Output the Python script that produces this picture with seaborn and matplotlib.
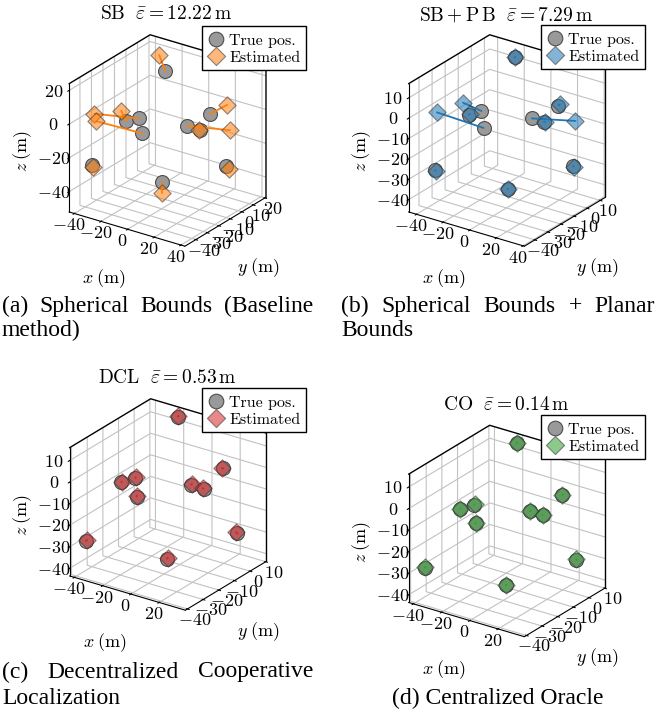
import matplotlib
matplotlib.use('Agg')
import matplotlib.pyplot as plt
import seaborn as sns
from matplotlib.ticker import MultipleLocator

# ground-truth node positions (m)
true_x = [-21.3, 17.0, -12.5, -5.4, 1.2, 19.8, 31.5, 34.9, -39.7, -6.1]
true_y = [7.9, 2.5, -36.2, -33.6, -38.7, -20.7, -23.3, -4.7, -34.2, -12.7]
true_z = [13.2, -1.1, 3.7, 5.9, 0.8, 2.1, 3.7, -24.6, -29.7, -40.8]

# estimated positions, spherical bounds only
sb_x = [-23.3, 17.0, -16.3, -38.8, -29.4, 39.8, 31.2, 37.4, -39.2, -6.1]
sb_y = [4.9, 17.3, -36.2, -33.6, -42.7, -6.5, -23.6, -4.7, -34.5, -12.7]
sb_z = [23.5, -1.75, 9.0, 0.9, 2.4, -1.7, 3.3, -26.2, -30.2, -46.8]

# spherical + planar bounds
pb_x = [-21.0, 17.5, -12.1, -19.2, -33.8, 39.8, 31.9, 35.2, -39.4, -6.0]
pb_y = [8.3, 2.9, -35.8, -33.6, -38.7, -7.7, -23.0, -4.4, -34.0, -12.9]
pb_z = [13.0, -0.6, 3.9, 7.3, 1.7, -0.3, 3.5, -24.9, -29.9, -40.5]

# decentralized cooperative localization
dcl_x = [-21.0, 16.2, -12.3, -5.2, 1.3, 20.1, 31.0, 34.2, -39.0, -5.8]
dcl_y = [8.0, 2.2, -36.0, -33.4, -38.6, -20.4, -23.5, -5.0, -34.0, -12.5]
dcl_z = [13.5, -1.0, 4.0, 6.2, 1.3, 2.3, 3.9, -24.1, -29.2, -40.4]

# centralized oracle
co_x = [-21.2, 16.9, -12.4, -5.3, 1.3, 19.9, 31.4, 34.8, -39.6, -6.0]
co_y = [8.0, 2.6, -36.1, -33.5, -38.6, -20.6, -23.2, -4.6, -34.1, -12.6]
co_z = [13.3, -1.0, 3.8, 6.0, 0.9, 2.2, 3.8, -24.5, -29.6, -40.7]

titles = [r'$\mathrm{SB}\ \ \bar{\varepsilon}=12.22\,\mathrm{m}$',
          r'$\mathrm{SB}+\mathrm{P\,B}\ \ \bar{\varepsilon}=7.29\,\mathrm{m}$',
          r'$\mathrm{DCL}\ \ \bar{\varepsilon}=0.53\,\mathrm{m}$',
          r'$\mathrm{CO}\ \ \bar{\varepsilon}=0.14\,\mathrm{m}$']

W, H = 662, 715

sns.set_style('white')
plt.rcParams.update({
    'font.family': 'serif',
    'font.serif': ['cmr10'],
    'mathtext.fontset': 'cm',
    'axes.formatter.use_mathtext': True,
    'axes.edgecolor': 'black',
    'text.color': 'black',
    'axes.labelcolor': 'black',
    'xtick.color': 'black',
    'ytick.color': 'black',
    'grid.color': '0.76',
    'grid.linewidth': 0.8,
})
pal = sns.color_palette('tab10')

fig = plt.figure(figsize=(W / 100, H / 100), dpi=100)


def draw_panel(rect, est, color, lims, steps, title, title_xy, leg_xy):
    ax = fig.add_axes(rect, projection='3d')
    ax.set_proj_type('ortho')
    ax.view_init(elev=25, azim=-55)
    ax.set_box_aspect((1, 1, 1))
    ax.computed_zorder = False
    (x0, x1), (y0, y1), (z0, z1) = lims
    ax.set_xlim(x0, x1)
    ax.set_ylim(y0, y1)
    ax.set_zlim(z0, z1)
    ax.xaxis.set_major_locator(MultipleLocator(steps[0]))
    ax.yaxis.set_major_locator(MultipleLocator(steps[1]))
    ax.zaxis.set_major_locator(MultipleLocator(steps[2]))
    ax.zaxis.set_ticks_position('lower')
    ax.zaxis.set_label_position('lower')
    for axis in (ax.xaxis, ax.yaxis, ax.zaxis):
        axis.pane.fill = False
        axis.pane.set_edgecolor((1, 1, 1, 0))
        axis.set_rotate_label(False)
    ax.grid(True)
    ax.tick_params(labelsize=13, pad=-2)
    ax.tick_params(axis='z', labelsize=13, pad=-1)
    for axis in (ax.xaxis, ax.yaxis, ax.zaxis):
        for tk in axis.get_major_ticks():
            tk.label1.set_verticalalignment('center')

    # back outline of the box
    ax.plot([x0, x0, x1, x1], [y0, y1, y1, y1], [z1, z1, z1, z0],
            color='black', lw=1.0, zorder=0.5)

    ex, ey, ez = est
    ax.scatter(true_x, true_y, true_z, s=100, c='0.6', edgecolors='0.3',
               linewidths=0.8, depthshade=False, label='True pos.', zorder=1)
    for i in range(len(true_x)):
        ax.plot([true_x[i], ex[i]], [true_y[i], ey[i]], [true_z[i], ez[i]],
                color=color, lw=1.3, zorder=2)
    ax.scatter(ex, ey, ez, marker='D', s=78, color=color, alpha=0.55,
               edgecolors='0.2', linewidths=0.8, depthshade=False,
               label='Estimated', zorder=3)

    ax.set_xlabel(r'$x\;(\mathrm{m})$', fontsize=13, rotation=0)
    ax.set_ylabel(r'$y\;(\mathrm{m})$', fontsize=13, rotation=0)
    ax.set_zlabel(r'$z\;(\mathrm{m})$', fontsize=13, rotation=90,
                  labelpad=0)

    ax.legend(loc='upper right', bbox_to_anchor=leg_xy,
              bbox_transform=fig.transFigure, fancybox=False,
              edgecolor='black', framealpha=1, fontsize=11.5, borderpad=0.35,
              handletextpad=0.35, labelspacing=0.05, borderaxespad=0,
              handlelength=1.0, handleheight=1.1, markerscale=1.05)
    fig.text(title_xy[0] / W, 1 - title_xy[1] / H, title, ha='center',
             va='center', fontsize=14)
    return ax


S = 237.8


def rect_at(cx, cy):
    # cube centre sits at 0.5135 of the square 3D axes
    left = cx - 0.5135 * S
    bottom = (H - cy) - 0.5135 * S
    return [left / W, bottom / H, S / W, S / H]


lims_a = [(-44, 43), (-49.5, 21), (-52, 24)]
lims_b = [(-46, 41), (-48, 14), (-46, 17)]
lims_cd = [(-43.4, 38.6), (-41.3, 10.5), (-43.5, 16)]

draw_panel(rect_at(167.5, 140.5), (sb_x, sb_y, sb_z), pal[1], lims_a,
           (20, 10, 20), titles[0], (166, 14), (306 / W, 1 - 26 / H))
draw_panel(rect_at(507, 140.5), (pb_x, pb_y, pb_z), pal[0], lims_b,
           (20, 10, 10), titles[1], (506, 15), (645 / W, 1 - 25 / H))
draw_panel(rect_at(168, 504.5), (dcl_x, dcl_y, dcl_z), pal[3], lims_cd,
           (20, 10, 10), titles[2], (167, 378), (306 / W, 1 - 388 / H))
draw_panel(rect_at(507, 531), (co_x, co_y, co_z), pal[2], lims_cd,
           (20, 10, 10), titles[3], (506, 405), (645 / W, 1 - 415 / H))

# sub-figure captions (justified like the paper)
renderer = fig.canvas.get_renderer()
cap_font = dict(fontsize=17, family='Liberation Serif', va='center')


def justify(line, x0, x1, y):
    words = line.split()
    texts = [fig.text(0, 1 - y / H, w, **cap_font) for w in words]
    widths = [t.get_window_extent(renderer).width for t in texts]
    gap = ((x1 - x0) - sum(widths)) / (len(words) - 1)
    x = x0
    for t, w in zip(texts, widths):
        t.set_x(x / W)
        x += w + gap


justify('(a) Spherical Bounds (Baseline', 2, 313, 306)
fig.text(2 / W, 1 - 330 / H, 'method)', **cap_font)
justify('(b) Spherical Bounds + Planar', 341, 655, 306)
fig.text(341 / W, 1 - 330 / H, 'Bounds', **cap_font)
justify('(c) Decentralized Cooperative', 2, 313, 672)
fig.text(2 / W, 1 - 698 / H, 'Localization', **cap_font)
fig.text(498 / W, 1 - 698 / H, '(d) Centralized Oracle', ha='center',
         **cap_font)

fig.savefig('out.png', dpi=100)
